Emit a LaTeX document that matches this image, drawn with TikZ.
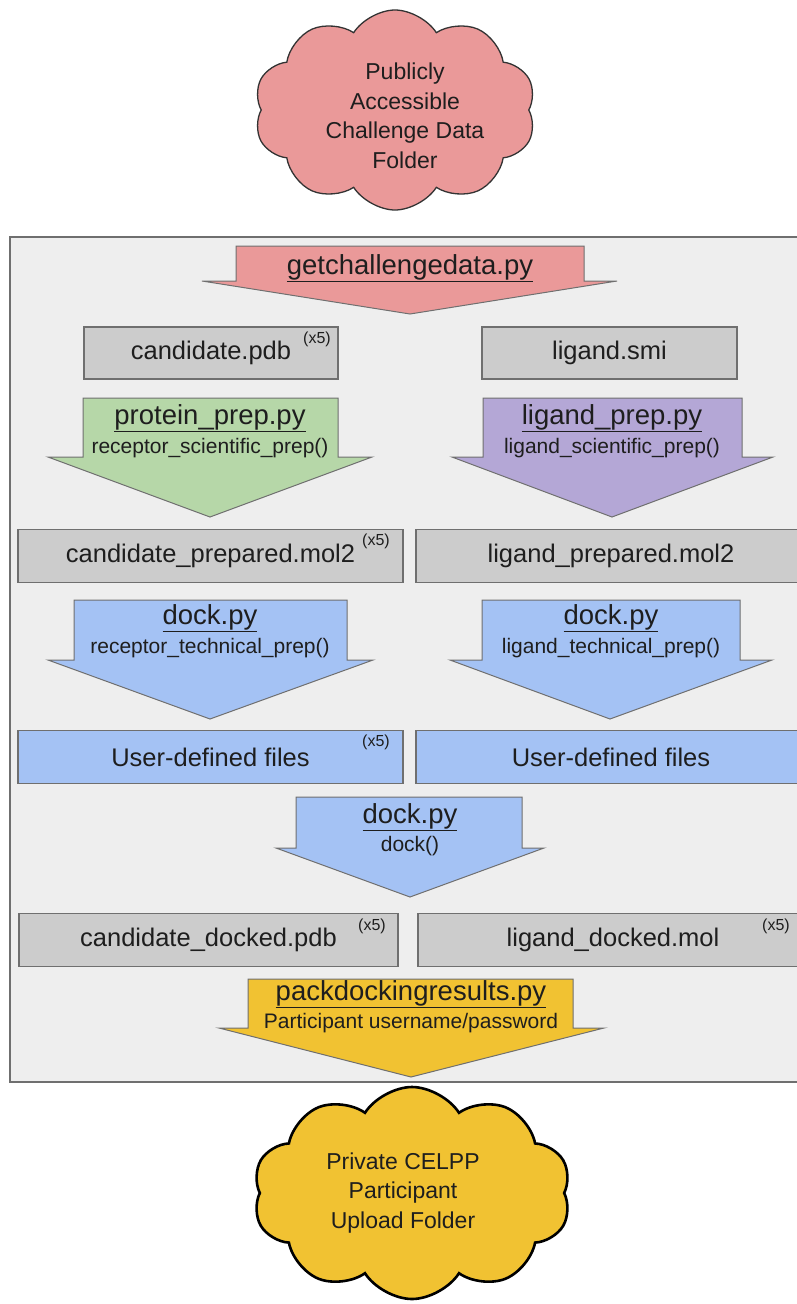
\documentclass[tikz,border=0pt]{standalone}
\usepackage{fontspec}
\setmainfont{Liberation Sans}
\usetikzlibrary{shapes.symbols}
\definecolor{cpink}{HTML}{EA9999}
\definecolor{cgreen}{HTML}{B6D7A8}
\definecolor{cpurple}{HTML}{B4A7D6}
\definecolor{cblue}{HTML}{A4C2F4}
\definecolor{cyellow}{HTML}{F1C232}
\definecolor{cgraybox}{HTML}{CCCCCC}
\definecolor{cpanel}{HTML}{EEEEEE}
\definecolor{cline}{HTML}{6F6F6F}
\definecolor{ctext}{HTML}{1E1E1E}
\newcommand{\barrowpath}[9]{%
  \draw[blockarrowstyle, fill=#9] (#1,#3) -- (#2,#3) -- (#2,#5) -- (#4,#5) -- (#6,#7) -- (#8,#5) -- (#1,#5) -- cycle;}
\tikzset{
  blockarrowstyle/.style={draw=cline, line width=1pt},
  filebox/.style={draw=cline, line width=1.3pt, fill=cgraybox, inner sep=0pt, text=ctext,
    font=\fontsize{25.5}{28}\selectfont},
  userbox/.style={filebox, fill=cblue},
  titletext/.style={inner sep=0pt, text=ctext, font=\fontsize{27.5}{30}\selectfont},
  subtext/.style={inner sep=0pt, text=ctext, font=\fontsize{21}{24}\selectfont},
  xfive/.style={inner sep=0pt, text=ctext, font=\fontsize{16}{18}\selectfont},
  cloudshape/.style={cloud, cloud puffs=10, cloud puff arc=115, aspect=1.4, inner sep=0pt},
  cloudlabel/.style={align=center, text=ctext, font=\fontsize{23}{29.5}\selectfont, inner sep=0pt},
}
\begin{document}
\begin{tikzpicture}[x=1pt, y=-1pt]
\useasboundingbox (0,0) rectangle (797,1304);
\fill[white] (0,0) rectangle (797,1304);
% panel
\draw[draw=cline, line width=1.2pt, fill=cpanel] (10,237) rectangle (805,1082);
% top cloud
\node[cloudshape, draw=black!80, line width=1.3pt, fill=cpink, minimum width=282pt, minimum height=200pt]
  (cloudtop) at (395,110) {};
\node[cloudlabel] (cloudtoptext) at (405,116) {Publicly\\Accessible\\Challenge Data\\Folder};
% block arrows: rect left, rect right, top, right wing x, wing y, tip x, tip y, left wing x, colour
\barrowpath{236}{584}{246}{617}{281}{410}{314}{202}{cpink}
\barrowpath{83}{338}{398}{372}{457}{210}{517}{48}{cgreen}
\barrowpath{483}{742}{398}{773}{457}{612}{517}{452}{cpurple}
\barrowpath{74}{347}{600}{373}{660}{210}{719}{48}{cblue}
\barrowpath{482}{740}{600}{772}{660}{610}{719}{450}{cblue}
\barrowpath{296}{522}{797}{544}{848}{410}{897}{276}{cblue}
\barrowpath{248}{573}{979}{604}{1028}{411}{1077}{219}{cyellow}
% arrow labels
\node[titletext] (getdata) at (410,268) {\underline{getchallengedata.py}};
\node[titletext] (pprep) at (210,418) {\underline{protein\_prep.py}};
\node[subtext] (pprepf) at (210,448) {receptor\_scientific\_prep()};
\node[titletext] (lprep) at (612,418) {\underline{ligand\_prep.py}};
\node[subtext] (lprepf) at (612,448) {ligand\_scientific\_prep()};
\node[titletext] (dockl) at (210,618) {\underline{dock.py}};
\node[subtext] (docklf) at (210,648) {receptor\_technical\_prep()};
\node[titletext] (dockr) at (611,618) {\underline{dock.py}};
\node[subtext] (dockrf) at (611,648) {ligand\_technical\_prep()};
\node[titletext] (dockc) at (410,817) {\underline{dock.py}};
\node[subtext] (dockcf) at (410,846) {dock()};
\node[titletext] (pack) at (411,994) {\underline{packdockingresults.py}};
\node[subtext] (packf) at (411,1023) {Participant username/password};
% file boxes
\node[filebox, minimum width=254pt, minimum height=52pt] (candpdb) at (211,353) {candidate.pdb};
\node[xfive] (x5a) at (317,339) {(x5)};
\node[filebox, minimum width=255pt, minimum height=52pt] (ligsmi) at (609.5,353) {ligand.smi};
\node[filebox, minimum width=385pt, minimum height=53pt] (candmol) at (210.5,556) {candidate\_prepared.mol2};
\node[xfive] (x5b) at (376,541) {(x5)};
\node[filebox, minimum width=390pt, minimum height=53pt] (ligmol) at (611,556) {ligand\_prepared.mol2};
\node[userbox, minimum width=385pt, minimum height=53pt] (userl) at (210.5,757) {User-defined files};
\node[xfive] (x5c) at (376,742) {(x5)};
\node[userbox, minimum width=390pt, minimum height=53pt] (userr) at (611,757) {User-defined files};
\node[filebox, minimum width=379pt, minimum height=53pt] (canddock) at (208.5,940) {candidate\_docked.pdb};
\node[xfive] (x5d) at (372,926) {(x5)};
\node[filebox, minimum width=390pt, minimum height=53pt] (ligdock) at (613,940) {ligand\_docked.mol};
\node[xfive] (x5e) at (776,926) {(x5)};
% bottom cloud
\node[cloudshape, draw=black, line width=2.6pt, fill=cyellow, minimum width=318pt, minimum height=212pt]
  (cloudbot) at (412,1193) {};
\node[cloudlabel] (cloudbottext) at (403,1193) {Private CELPP\\Participant\\Upload Folder};
\end{tikzpicture}
\end{document}
